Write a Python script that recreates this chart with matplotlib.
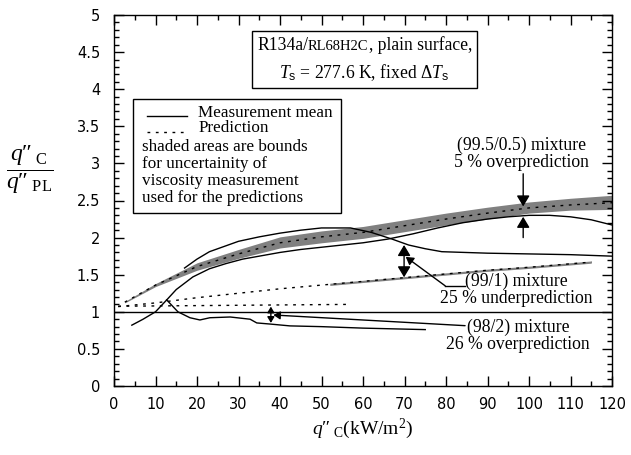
import matplotlib
matplotlib.use("Agg")
import matplotlib.pyplot as plt
from matplotlib.patches import Rectangle
from matplotlib.offsetbox import TextArea, HPacker, VPacker, AnchoredOffsetbox
from matplotlib.ticker import MultipleLocator, FuncFormatter

plt.rcParams['font.family'] = ['Liberation Serif', 'DejaVu Serif']
plt.rcParams['mathtext.fontset'] = 'custom'
plt.rcParams['mathtext.rm'] = 'Liberation Serif'
plt.rcParams['mathtext.it'] = 'Liberation Serif:italic'
plt.rcParams['mathtext.sf'] = 'Liberation Sans'

# (99.5/0.5) mixture: prediction with uncertainty band, measurement mean
pred995_x = [2.6, 10, 20, 30, 40, 50, 60, 70, 80, 90, 100, 110, 120]
pred995_y = [1.13, 1.36, 1.61, 1.78, 1.93, 2.01, 2.07, 2.16, 2.25, 2.33, 2.40, 2.44, 2.47]
pred995_lo = [1.12, 1.34, 1.56, 1.72, 1.86, 1.93, 1.99, 2.08, 2.17, 2.25, 2.33, 2.37, 2.38]
pred995_hi = [1.14, 1.38, 1.66, 1.84, 2.01, 2.09, 2.15, 2.24, 2.33, 2.41, 2.48, 2.53, 2.57]
meas995_x = [4.3, 7, 10, 12.7, 15, 19, 23, 27, 31, 35, 40, 45, 50, 55, 60, 66, 72, 78,
             84, 90, 95, 100, 105, 110, 115, 120]
meas995_y = [0.82, 0.90, 1.00, 1.16, 1.30, 1.47, 1.58, 1.65, 1.71, 1.75, 1.80, 1.84, 1.87,
             1.90, 1.93, 1.98, 2.05, 2.13, 2.20, 2.25, 2.28, 2.30, 2.30, 2.28, 2.24, 2.17]

# (99/1) mixture
pred991_x = [1, 10, 20, 30, 40, 52]
pred991_y = [1.07, 1.12, 1.19, 1.25, 1.31, 1.37]
band991_x = [52, 60, 70, 80, 90, 100, 115]
band991_y = [1.37, 1.41, 1.46, 1.51, 1.56, 1.60, 1.67]
band991_half = 0.015
meas991_x = [17, 20, 23, 27, 30, 35, 40, 45, 50, 57, 62, 67, 71, 75, 79, 90, 100, 110, 120]
meas991_y = [1.59, 1.71, 1.81, 1.89, 1.95, 2.01, 2.06, 2.10, 2.13, 2.13, 2.07, 1.98, 1.90,
             1.85, 1.81, 1.79, 1.78, 1.77, 1.75]

# (98/2) mixture
pred982_x = [1, 57]
pred982_y = [1.075, 1.10]
meas982_x = [12.7, 15.4, 18.3, 20.7, 23.1, 28, 32.8, 34.4, 37.6, 42.4, 50, 60, 75]
meas982_y = [1.16, 1.00, 0.92, 0.89, 0.92, 0.93, 0.90, 0.85, 0.835, 0.81, 0.80, 0.78, 0.76]

dots = (0, (2, 4))
head = '-|>,head_length=0.5,head_width=0.3'
dhead = '<|-|>,head_length=0.5,head_width=0.3'

fig = plt.figure(figsize=(6.31, 4.55), dpi=100)
ax = fig.add_axes([114 / 631, 1 - 386 / 455, 498 / 631, 371 / 455])

# shaded bounds and predictions
ax.fill_between(pred995_x, pred995_lo, pred995_hi, color='0.5', lw=0)
ax.plot(pred995_x, pred995_y, color='k', lw=1.0, ls=dots)
ax.fill_between(band991_x, [v - band991_half for v in band991_y],
                [v + band991_half for v in band991_y], color='0.5', lw=0)
ax.plot(pred991_x + band991_x[1:], pred991_y + band991_y[1:], color='k', lw=1.0, ls=dots)
ax.plot(pred982_x, pred982_y, color='k', lw=1.0, ls=dots)

# measurements
ax.axhline(1.0, color='k', lw=1.0)
ax.plot(meas995_x, meas995_y, color='k', lw=1.0)
ax.plot(meas991_x, meas991_y, color='k', lw=1.0)
ax.plot(meas982_x, meas982_y, color='k', lw=1.0)

ax.set_xlim(0, 120)
ax.set_ylim(0, 5)
ax.xaxis.set_major_locator(MultipleLocator(10))
ax.xaxis.set_minor_locator(MultipleLocator(5))
ax.yaxis.set_major_locator(MultipleLocator(0.5))
ax.yaxis.set_minor_locator(MultipleLocator(0.1))
ax.yaxis.set_major_formatter(FuncFormatter(lambda v, p: '%g' % v))
ax.tick_params(which='both', direction='in', top=True, right=True, width=1.0,
               labelsize=10.5, labelfontfamily='DejaVu Sans')
ax.tick_params(which='major', length=7)
ax.tick_params(which='minor', length=3.5)
ax.tick_params(axis='y', pad=10)
ax.tick_params(axis='x', pad=8)
for s in ax.spines.values():
    s.set_linewidth(1.0)

ax.set_xlabel(r"$q$″$_{\ \mathrm{C}}$(kW/m$^2$)", fontsize=14, labelpad=3)
ax.set_ylabel(r"$\dfrac{q″_{\ \mathrm{C}}}{q″_{\ \mathrm{PL}}}$", fontsize=17, rotation=0)
ax.yaxis.set_label_coords(-0.168, 0.512)

# title box
fs = 12.7
row1 = HPacker(children=[TextArea('R134a/', textprops=dict(size=fs)),
                         TextArea('RL68H2C', textprops=dict(size=10.5)),
                         TextArea(', plain surface,', textprops=dict(size=fs))],
               align='baseline', pad=0, sep=0)
row2 = TextArea(r'$T_{\mathsf{s}}$ = 277.6 K, fixed $\Delta T_{\mathsf{s}}$', textprops=dict(size=fs))
box = VPacker(children=[row1, row2], align='center', pad=0, sep=6)
title = AnchoredOffsetbox(loc='center', child=box, pad=0.35, borderpad=0,
                          bbox_to_anchor=(0.503, 0.880), bbox_transform=ax.transAxes,
                          frameon=True)
title.patch.set_edgecolor('k')
title.patch.set_linewidth(1.0)
ax.add_artist(title)

# legend box
lfs = 12.3
ax.add_patch(Rectangle((0.038, 0.466), 0.418, 0.308, transform=ax.transAxes,
                       fill=False, ec='k', lw=1.0))
ax.plot([0.066, 0.147], [0.728, 0.728], transform=ax.transAxes, color='k', lw=1.0)
ax.plot([0.066, 0.147], [0.685, 0.685], transform=ax.transAxes, color='k', lw=1.0, ls=dots)
ax.text(0.169, 0.736, 'Measurement mean', transform=ax.transAxes, fontsize=lfs, va='center')
ax.text(0.169, 0.695, 'Prediction', transform=ax.transAxes, fontsize=lfs, va='center')
ax.text(0.056, 0.575, 'shaded areas are bounds\nfor uncertainity of\nviscosity measurement\n'
        'used for the predictions', transform=ax.transAxes, fontsize=lfs, va='center',
        linespacing=1.08)

# (99.5/0.5) annotation
ax.text(98.1, 3.13, '(99.5/0.5) mixture\n5 % overprediction', fontsize=fs,
        ha='center', va='center', linespacing=1.0)
ax.annotate('', xy=(98.6, 2.42), xytext=(98.6, 2.86),
            arrowprops=dict(arrowstyle=head, color='k', lw=1.0, mutation_scale=13,
                            shrinkA=0, shrinkB=0))
ax.annotate('', xy=(98.6, 2.28), xytext=(98.6, 2.0),
            arrowprops=dict(arrowstyle=head, color='k', lw=1.0, mutation_scale=13,
                            shrinkA=0, shrinkB=0))

# (99/1) annotation
ax.annotate('', xy=(69.9, 1.90), xytext=(69.9, 1.465),
            arrowprops=dict(arrowstyle=dhead, color='k', lw=1.0, mutation_scale=13,
                            shrinkA=0, shrinkB=0))
ax.plot([84.6, 79.8], [1.35, 1.35], color='k', lw=1.0)
ax.annotate('', xy=(70.3, 1.74), xytext=(79.8, 1.35),
            arrowprops=dict(arrowstyle=head, color='k', lw=1.0, mutation_scale=9,
                            shrinkA=0, shrinkB=0))
ax.text(97.0, 1.29, '(99/1) mixture\n25 % underprediction', fontsize=fs,
        ha='center', va='center', linespacing=1.0)

# (98/2) annotation
ax.annotate('', xy=(37.8, 1.07), xytext=(37.8, 0.85),
            arrowprops=dict(arrowstyle=dhead, color='k', lw=1.0, mutation_scale=7,
                            shrinkA=0, shrinkB=0))
ax.annotate('', xy=(38.4, 0.957), xytext=(84.6, 0.813),
            arrowprops=dict(arrowstyle=head, color='k', lw=1.0, mutation_scale=8,
                            shrinkA=0, shrinkB=0))
ax.text(97.3, 0.678, '(98/2) mixture\n26 % overprediction', fontsize=fs,
        ha='center', va='center', linespacing=1.0)

fig.savefig('out.png', dpi=100)
